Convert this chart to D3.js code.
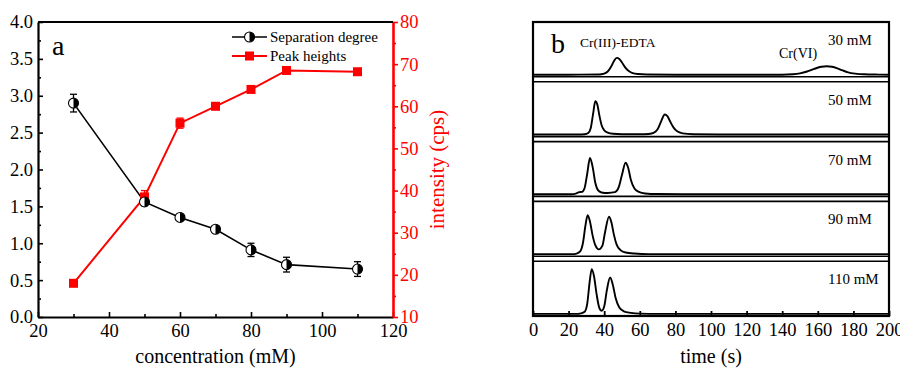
<!DOCTYPE html>
<html><head><meta charset="utf-8">
<script src="https://cdn.jsdelivr.net/npm/d3@7"></script>
<style>
body{margin:0;background:#fff}
svg, svg g, svg text{font-family:"Liberation Serif","Times New Roman",Times,serif !important}
</style></head>
<body><svg id="c" width="900" height="371" font-family="Liberation Serif"></svg>
<script>
// ---------- Panel a data ----------
const concentration = [30, 50, 60, 70, 80, 90, 110];
const separationDegree = [2.90, 1.56, 1.35, 1.19, 0.91, 0.71, 0.65];
const separationErr = [0.12, 0.05, 0.02, 0.03, 0.09, 0.10, 0.10];
const peakHeights = [18.0, 38.5, 56.0, 60.0, 64.0, 68.5, 68.2];
const peakErr = [0.4, 1.5, 1.2, 0.5, 0.5, 0.6, 0.5];
const xTicksA = [20, 40, 60, 80, 100, 120];
const yTicksLeft = [0, 0.5, 1, 1.5, 2, 2.5, 3, 3.5, 4];
const yTicksRight = [10, 20, 30, 40, 50, 60, 70, 80];

// ---------- Panel b data (time s, signal a.u.) ----------
const traceLabels = ["30 mM", "50 mM", "70 mM", "90 mM", "110 mM"];
const trace30 = [[0,0],[20,0],[37,0.3],[40,2],[42,6],[44,16],[45.5,26],[47,32],[48.5,30],[50,23],[52,13],[54,6.5],[56,3],[59,1.2],[64,0.4],[80,0],[140,0],[146,0.8],[150,2.5],[154,6],[158,11],[162,15],[165,16],[168,15],[171,12],[174,8],[177,4.5],[181,2],[186,0.7],[194,0.2],[200,0]];
const trace50 = [[0,0],[25,0],[29,0.4],[31,3],[32.5,13],[33.8,40],[35,63],[36.2,56],[37.3,36],[38.6,17],[40,8],[42,3.5],[45,1.3],[50,0.5],[60,0.5],[65,1],[68,3.5],[70,10],[72,25],[74,38],[75.5,35],[77,25],[79,13],[81,6],[84,2.2],[90,0.6],[110,0],[200,0]];
const trace70 = [[0,0],[22,0],[24,1.2],[26,4],[27.5,4.5],[29,12],[30.5,40],[32,69],[33.5,52],[35,22],[36.5,8],[38.5,3.5],[42,2.5],[46,4],[48,12],[50,37],[52,60],[53.5,50],[55,27],[57,11],[59.5,4.5],[63,1.6],[70,0.5],[90,0],[200,0]];
const trace90 = [[0,0],[22,0],[24.5,1],[26.5,5],[28,20],[29.5,55],[30.7,74],[32,62],[33.5,35],[35,17],[37,9],[39,16],[40.5,42],[42.7,71],[44,61],[45.5,36],[47,18],[49,8],[52,3],[57,1],[65,0],[200,0]];
const trace110 = [[0,0],[24,0],[27,1],[29,4],[30.5,20],[31.8,60],[33,85],[34.3,71],[35.8,36],[37.2,12],[38.6,6],[40,14],[41.5,45],[43.3,69],[44.8,56],[46.5,29],[48.5,12],[51,5],[55,2],[60,0.5],[70,0],[200,0]];
const traces = [trace30, trace50, trace70, trace90, trace110];
const xTicksB = [0, 20, 40, 60, 80, 100, 120, 140, 160, 180, 200];

const svg = d3.select("#c");
const RED = "#ff0000";
const FONT = "Liberation Serif, Times New Roman, Times, serif";

// ================= Panel a =================
const A = {l: 38, r: 393, t: 22, b: 317};
const xA = d3.scaleLinear().domain([20, 120]).range([A.l, A.r]);
const yL = d3.scaleLinear().domain([0, 4]).range([A.b, A.t]);
const yR = d3.scaleLinear().domain([10, 80]).range([A.b, A.t]);

const gx = svg.append("g").attr("transform", `translate(0,${A.b})`)
  .call(d3.axisBottom(xA).tickValues(xTicksA).tickFormat(d3.format("d")).tickSizeInner(-5).tickSizeOuter(0).tickPadding(7));
svg.append("g").attr("transform", `translate(0,${A.b})`)
  .call(d3.axisBottom(xA).tickValues(d3.range(30, 120, 20)).tickFormat("").tickSizeInner(-3).tickSizeOuter(0))
  .call(g => g.select(".domain").remove());
const gy = svg.append("g").attr("transform", `translate(${A.l},0)`)
  .call(d3.axisLeft(yL).tickValues(yTicksLeft).tickFormat(d3.format(".1f")).tickSizeInner(-5).tickSizeOuter(0).tickPadding(5));
svg.append("g").attr("transform", `translate(${A.l},0)`)
  .call(d3.axisLeft(yL).tickValues(d3.range(0.25, 4, 0.5)).tickFormat("").tickSizeInner(-3).tickSizeOuter(0))
  .call(g => g.select(".domain").remove());
const gr = svg.append("g").attr("class", "raxis").attr("transform", `translate(${A.r},0)`)
  .call(d3.axisRight(yR).tickValues(yTicksRight).tickFormat(d3.format("d")).tickSizeInner(5).tickSizeOuter(0).tickPadding(2));
svg.append("g").attr("class", "raxis").attr("transform", `translate(${A.r},0)`)
  .call(d3.axisRight(yR).tickValues(d3.range(15, 80, 10)).tickFormat("").tickSizeInner(3).tickSizeOuter(0))
  .call(g => g.select(".domain").remove());
svg.append("line").attr("x1", A.l).attr("x2", A.r).attr("y1", A.t).attr("y2", A.t).attr("stroke", "#000").attr("stroke-width", 2.2);

svg.selectAll("g .domain").attr("stroke-width", 2.2);
svg.selectAll("g .tick line").attr("stroke-width", 1.6);
gr.selectAll(".domain").attr("stroke", RED).attr("stroke-width", 2.6);
svg.selectAll(".raxis line").attr("stroke", RED);
gr.selectAll("text").attr("fill", RED);

svg.append("text").attr("x", (A.l + A.r) / 2).attr("y", 363).attr("text-anchor", "middle")
  .attr("font-size", 20).text("concentration (mM)");
svg.append("text").attr("transform", `translate(444,${(A.t + A.b) / 2}) rotate(-90)`)
  .attr("text-anchor", "middle").attr("font-size", 21).attr("fill", RED).text("intensity (cps)");
svg.append("text").attr("x", 52).attr("y", 55).attr("font-size", 28).text("a");

const lineR = d3.line().x((d, i) => xA(concentration[i])).y(d => yR(d));
svg.append("path").datum(peakHeights).attr("d", lineR).attr("fill", "none").attr("stroke", RED).attr("stroke-width", 2);
const lineL = d3.line().x((d, i) => xA(concentration[i])).y(d => yL(d));
svg.append("path").datum(separationDegree).attr("d", lineL).attr("fill", "none").attr("stroke", "#000").attr("stroke-width", 1.6);

function errBar(g, x, y0, y1, color) {
  g.append("line").attr("x1", x).attr("x2", x).attr("y1", y0).attr("y2", y1).attr("stroke", color).attr("stroke-width", 1.3);
  [y0, y1].forEach(y => g.append("line").attr("x1", x - 3.5).attr("x2", x + 3.5).attr("y1", y).attr("y2", y).attr("stroke", color).attr("stroke-width", 1.3));
}
const eb = svg.append("g");
concentration.forEach((c, i) => {
  errBar(eb, xA(c), yR(peakHeights[i] - peakErr[i]), yR(peakHeights[i] + peakErr[i]), RED);
});
concentration.forEach((c, i) => {
  errBar(eb, xA(c), yL(separationDegree[i] - separationErr[i]), yL(separationDegree[i] + separationErr[i]), "#000");
});

function squareMarker(g, x, y) {
  g.append("rect").attr("x", x - 4.5).attr("y", y - 4.5).attr("width", 9).attr("height", 9).attr("fill", RED);
}
function halfCircle(g, x, y) {
  const r = 5;
  g.append("circle").attr("cx", x).attr("cy", y).attr("r", r).attr("fill", "#fff").attr("stroke", "#000").attr("stroke-width", 1.1);
  g.append("path").attr("d", `M${x},${y - r} A${r},${r} 0 0 1 ${x},${y + r} Z`).attr("fill", "#000");
}
const mk = svg.append("g");
concentration.forEach((c, i) => squareMarker(mk, xA(c), yR(peakHeights[i])));
concentration.forEach((c, i) => halfCircle(mk, xA(c), yL(separationDegree[i])));

const lg = svg.append("g");
lg.append("line").attr("x1", 232).attr("x2", 267).attr("y1", 37).attr("y2", 37).attr("stroke", "#000").attr("stroke-width", 1.6);
halfCircle(lg, 249.5, 37);
lg.append("text").attr("x", 270).attr("y", 42).attr("font-size", 15).text("Separation degree");
lg.append("line").attr("x1", 232).attr("x2", 267).attr("y1", 56).attr("y2", 56).attr("stroke", RED).attr("stroke-width", 2);
squareMarker(lg, 249.5, 56);
lg.append("text").attr("x", 270).attr("y", 61).attr("font-size", 15).text("Peak heights");

// ================= Panel b =================
const B = {l: 533, r: 889, t: 22, b: 316};
const xB = d3.scaleLinear().domain([0, 200]).range([B.l, B.r]);
const nP = traces.length, gap = 5;
const ph = (B.b - B.t - gap * (nP - 1)) / nP;

const gb = svg.append("g").attr("transform", `translate(0,${B.b})`)
  .call(d3.axisBottom(xB).tickValues(xTicksB).tickFormat(d3.format("d")).tickSizeInner(-5).tickSizeOuter(0).tickPadding(7));
gb.select(".domain").remove();
gb.selectAll(".tick line").attr("stroke-width", 1.8);

svg.append("text").attr("x", (B.l + B.r) / 2).attr("y", 363).attr("text-anchor", "middle")
  .attr("font-size", 20).text("time (s)");

const line = d3.line().curve(d3.curveMonotoneX);
traces.forEach((tr, i) => {
  const top = B.t + i * (ph + gap), bot = top + ph;
  const yS = d3.scaleLinear().domain([-4, 100]).range([bot, top]);
  svg.append("path").datum(tr).attr("d", line.x(d => xB(d[0])).y(d => yS(d[1])))
    .attr("fill", "none").attr("stroke", "#000").attr("stroke-width", 1.9).attr("stroke-linejoin", "round");
  if (i > 0) svg.append("line").attr("x1", B.l).attr("x2", B.r).attr("y1", top).attr("y2", top).attr("stroke", "#000").attr("stroke-width", 1.6);
  if (i < nP - 1) svg.append("line").attr("x1", B.l).attr("x2", B.r).attr("y1", bot).attr("y2", bot).attr("stroke", "#000").attr("stroke-width", 1.6);
  svg.append("text").attr("x", 828).attr("y", top + 23).attr("font-size", 15).text(traceLabels[i]);
});
svg.append("rect").attr("x", B.l).attr("y", B.t).attr("width", B.r - B.l).attr("height", B.b - B.t)
  .attr("fill", "none").attr("stroke", "#000").attr("stroke-width", 2.2);

svg.append("text").attr("x", 551).attr("y", 53).attr("font-size", 28).text("b");
svg.append("text").attr("x", 580).attr("y", 47).attr("font-size", 13.5).text("Cr(III)-EDTA");
svg.append("text").attr("x", 779).attr("y", 58).attr("font-size", 14).text("Cr(VI)");

// uniform serif font on every text (axis groups included)
svg.selectAll("g").attr("font-family", FONT);
svg.selectAll("text").attr("font-family", FONT);
svg.selectAll("g.tick text").attr("font-size", 18.5);
</script></body></html>
